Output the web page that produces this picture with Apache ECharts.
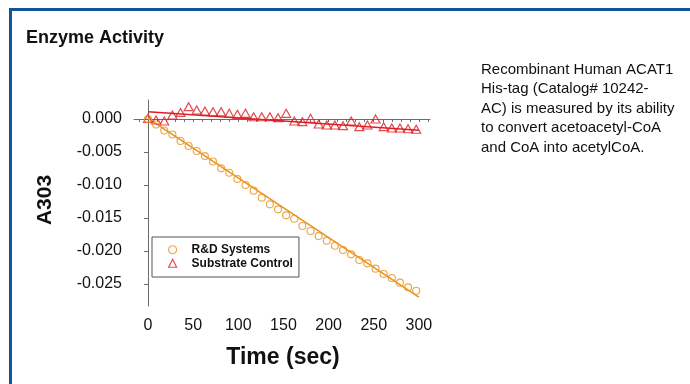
<!DOCTYPE html>
<html>
<head>
<meta charset="utf-8">
<script src="https://cdn.jsdelivr.net/npm/echarts@6/dist/echarts.min.js"></script>
<style>
  html, body { margin: 0; padding: 0; background: #fff; }
  #main { width: 690px; height: 384px; }
</style>
</head>
<body>
<div id="main"></div>
<script>
// sampling times (sec)
var timeSec = [0, 9, 18, 27, 36, 45, 54, 63, 72, 81, 90, 99, 108, 117, 126, 135, 144,
  153, 162, 171, 180, 189, 198, 207, 216, 225, 234, 243, 252, 261, 270, 279, 288, 297];

// A303 readings
var rdSystems = [0.0000, -0.00083, -0.00174, -0.00235, -0.00333, -0.00409, -0.00485, -0.00561,
  -0.00644, -0.00747, -0.00814, -0.00909, -0.01000, -0.01086, -0.01192, -0.01292, -0.01368,
  -0.01459, -0.01511, -0.01621, -0.01697, -0.01773, -0.01844, -0.01920, -0.01985, -0.02050,
  -0.02136, -0.02186, -0.02268, -0.02348, -0.02409, -0.02480, -0.02550, -0.02602];
var substrateControl = [0.0001, -0.00015, -0.0003, 0.0006, 0.0010, 0.00187, 0.00136, 0.00121,
  0.0011, 0.0011, 0.00086, 0.00071, 0.00086, 0.00035, 0.00035, 0.00035, 0.0002, 0.00086,
  -0.0003, -0.0004, 0.0001, -0.00076, -0.00091, -0.00091, -0.00101, -0.0003, -0.00116,
  -0.00091, 0.0, -0.00116, -0.00136, -0.00136, -0.00147, -0.00156];

// linear fits
var fitTime = [0, 300];
var rdFit = [0.0001, -0.0270];
var substrateFit = [0.0011, -0.0017];

var xTicks = [0, 50, 100, 150, 200, 250, 300];
var xMinorTicks = [-10, 0, 10, 20, 30, 40, 50, 60, 70, 80, 90, 100, 110, 120, 130, 140, 150,
  160, 170, 180, 190, 200, 210, 220, 230, 240, 250, 260, 270, 280, 290, 300, 310];
var yTicks = [0, -0.005, -0.010, -0.015, -0.020, -0.025];

var descLines = [
  'Recombinant Human ACAT1',
  'His-tag (Catalog# 10242-',
  'AC) is measured by its ability',
  'to convert acetoacetyl-CoA',
  'and CoA into acetylCoA.'
];

var orange = '#E8931E';
var red = '#DD1F26';
var axisColor = '#6b6b6b';
var font = 'Liberation Sans, Arial, sans-serif';

function pairs(xs, ys) {
  return xs.map(function (x, i) { return [x, ys[i]]; });
}

var myChart = echarts.init(document.getElementById('main'));

myChart.setOption({
  animation: false,
  backgroundColor: '#fff',
  textStyle: { fontFamily: font },
  grid: { left: 134, top: 100, width: 296, height: 206 },
  legend: {
    orient: 'vertical',
    left: 152,
    top: 237,
    padding: [6, 6, 7, 16],
    itemGap: 0,
    itemWidth: 8,
    itemHeight: 8,
    backgroundColor: '#fff',
    borderColor: '#555',
    borderWidth: 1,
    textStyle: { fontFamily: font, fontSize: 12, fontWeight: 'bold', color: '#111', lineHeight: 13.5,
      padding: [0, 0, 0, 10] },
    data: [
      { name: 'R&D Systems', icon: 'circle', itemStyle: { color: 'transparent', borderColor: orange, borderWidth: 1.2 } },
      { name: 'Substrate Control', icon: 'triangle', itemStyle: { color: 'transparent', borderColor: red, borderWidth: 1.2 } }
    ]
  },
  xAxis: {
    type: 'value',
    min: -15.5,
    max: 312.3,
    splitLine: { show: false },
    axisLine: { lineStyle: { color: axisColor, width: 1 } },
    axisTick: { length: 3, customValues: xMinorTicks, lineStyle: { color: axisColor } },
    axisLabel: { customValues: xTicks, margin: 12, fontSize: 16, color: '#111', fontFamily: font }
  },
  yAxis: {
    type: 'value',
    min: -0.02833,
    max: 0.00288,
    splitLine: { show: false },
    axisLine: { show: true, lineStyle: { color: axisColor, width: 1 } },
    axisTick: { show: true, length: 4, customValues: yTicks, lineStyle: { color: axisColor } },
    axisLabel: {
      customValues: yTicks, margin: 12, fontSize: 16, color: '#111', fontFamily: font,
      formatter: function (v) { return v.toFixed(3); }
    }
  },
  graphic: [
    { type: 'rect', left: 8, top: 7, shape: { width: 1000, height: 1000 },
      style: { fill: 'none', stroke: '#0F5597', lineWidth: 3 }, silent: true },
    { type: 'text', x: 26, y: 38, style: { text: 'Enzyme Activity', font: 'bold 18px ' + font,
      fill: '#111', textVerticalAlign: 'middle' } },
    { type: 'text', x: 481, y: 60, style: { text: descLines.join('\n'), font: '15px ' + font,
      fill: '#111', lineHeight: 19.5 } },
    { type: 'text', x: 45, y: 200, rotation: Math.PI / 2, style: { text: 'A303', font: 'bold 21px ' + font,
      fill: '#111', textAlign: 'center', textVerticalAlign: 'middle' } },
    { type: 'text', x: 283, y: 358, style: { text: 'Time (sec)', font: 'bold 23px ' + font,
      fill: '#111', textAlign: 'center', textVerticalAlign: 'middle' } }
  ],
  series: [
    {
      name: 'Substrate Control fit', type: 'line', data: pairs(fitTime, substrateFit),
      showSymbol: false, lineStyle: { color: red, width: 1.3 }, z: 1
    },
    {
      name: 'R&D Systems fit', type: 'line', data: pairs(fitTime, rdFit),
      showSymbol: false, lineStyle: { color: orange, width: 1.5 }, z: 1
    },
    {
      name: 'Substrate Control', type: 'scatter', data: pairs(timeSec, substrateControl),
      symbol: 'triangle', symbolSize: [9, 8],
      itemStyle: { color: 'transparent', borderColor: red, borderWidth: 1.2 }, z: 2
    },
    {
      name: 'R&D Systems', type: 'scatter', data: pairs(timeSec, rdSystems),
      symbol: 'circle', symbolSize: 7,
      itemStyle: { color: 'transparent', borderColor: orange, borderWidth: 1.2 }, z: 3
    }
  ]
});
</script>
</body>
</html>
